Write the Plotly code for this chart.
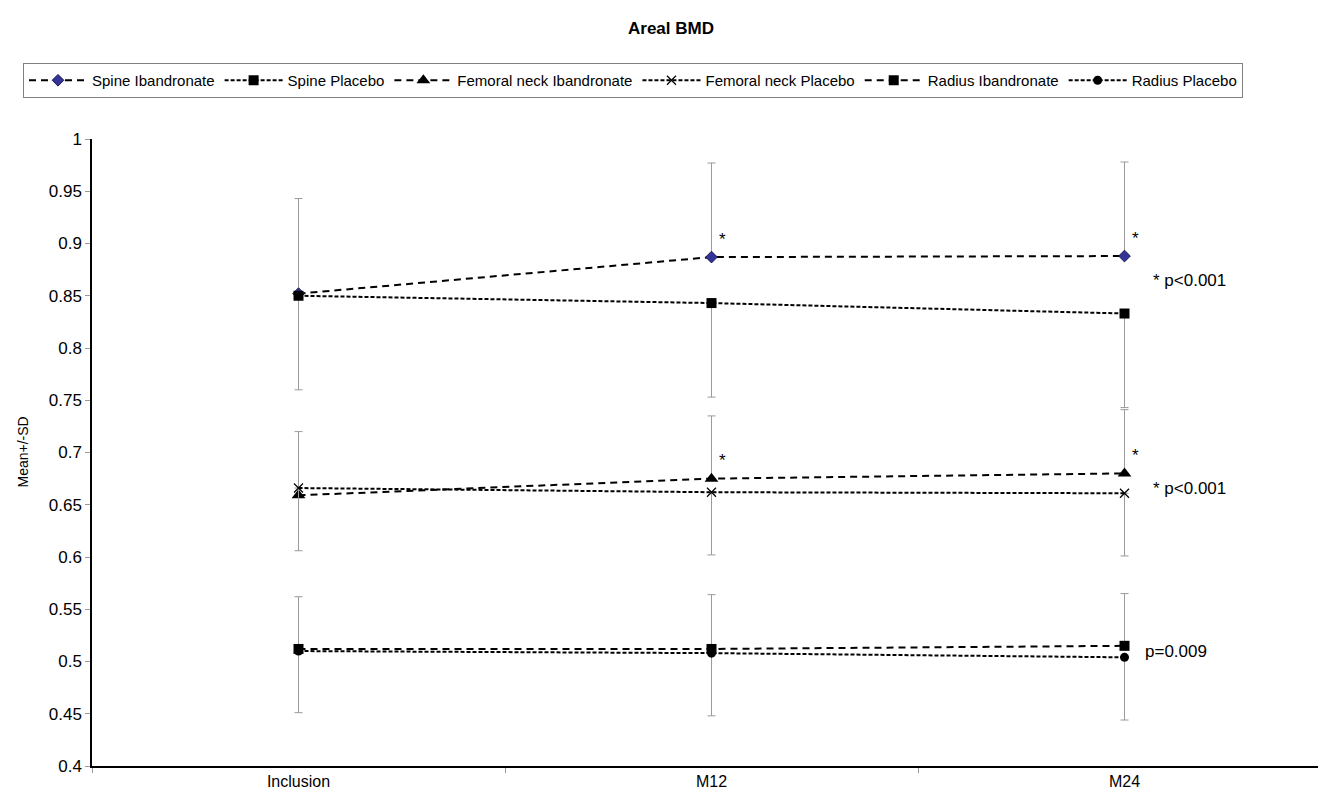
import plotly.graph_objects as go

categories = ["Inclusion", "M12", "M24"]

spine_iband = [0.852, 0.887, 0.888]
spine_iband_sd = [0.091, 0.090, 0.090]
spine_placebo = [0.850, 0.843, 0.833]
spine_placebo_sd = [0.090, 0.090, 0.090]

fem_iband = [0.659, 0.675, 0.680]
fem_iband_sd = [0.061, 0.060, 0.061]
fem_placebo = [0.666, 0.662, 0.661]
fem_placebo_sd = [0.060, 0.060, 0.060]

radius_iband = [0.512, 0.512, 0.515]
radius_iband_sd = [0.050, 0.052, 0.050]
radius_placebo = [0.510, 0.508, 0.504]
radius_placebo_sd = [0.059, 0.060, 0.060]

FONT = "Liberation Sans, Arial, sans-serif"
LONG = "7px,5px"
SHORT = "4px,2px"
ERRC = "#9a9a9a"

series = [
    ("Spine Ibandronate", spine_iband, spine_iband_sd, "up", LONG,
     dict(symbol="diamond", size=9, color="#333399", line=dict(color="#1a1a4d", width=1))),
    ("Spine Placebo", spine_placebo, spine_placebo_sd, "down", SHORT,
     dict(symbol="square", size=10, color="black")),
    ("Femoral neck Ibandronate", fem_iband, fem_iband_sd, "up", LONG,
     dict(symbol="triangle-up", size=12, color="black")),
    ("Femoral neck Placebo", fem_placebo, fem_placebo_sd, "down", SHORT,
     dict(symbol="x-thin-open", size=9, color="black", line=dict(color="black", width=1.2))),
    ("Radius Ibandronate", radius_iband, radius_iband_sd, "up", LONG,
     dict(symbol="square", size=10, color="black")),
    ("Radius Placebo", radius_placebo, radius_placebo_sd, "down", SHORT,
     dict(symbol="circle", size=9, color="black")),
]

fig = go.Figure()
for name, vals, sd, direction, dash, marker in series:
    zeros = [0] * len(sd)
    err = dict(type="data", symmetric=False,
               array=sd if direction == "up" else zeros,
               arrayminus=zeros if direction == "up" else sd,
               color=ERRC, thickness=1, width=4)
    fig.add_trace(go.Scatter(
        x=categories, y=vals, name=name, mode="lines+markers",
        line=dict(color="black", width=2, dash=dash),
        marker=marker, error_y=err,
    ))

annotations = []
# significance asterisks above Ibandronate points at M12 and M24
for vals in (spine_iband, fem_iband):
    for cat, v in zip(categories[1:], vals[1:]):
        annotations.append(dict(x=cat, y=v, xref="x", yref="y", text="*",
                                showarrow=False, xshift=11, yshift=18,
                                font=dict(family=FONT, size=17, color="black")))

annotations += [
    dict(x="M24", y=0.865, xref="x", yref="y", text="* p<0.001", showarrow=False,
         xanchor="left", xshift=26, font=dict(family=FONT, size=17, color="black")),
    dict(x="M24", y=0.666, xref="x", yref="y", text="* p<0.001", showarrow=False,
         xanchor="left", xshift=26, font=dict(family=FONT, size=17, color="black")),
    dict(x="M24", y=0.510, xref="x", yref="y", text="p=0.009", showarrow=False,
         xanchor="left", xshift=18, font=dict(family=FONT, size=17, color="black")),
    dict(x=-(84 - 14) / (1326 - 84 - 3), y=0.7, xref="paper", yref="y", text="Mean+/-SD",
         showarrow=False, textangle=-90, xanchor="center",
         font=dict(family=FONT, size=14, color="black")),
]

fig.update_layout(
    width=1326, height=789,
    margin=dict(l=84, r=3, t=131, b=31, autoexpand=False),
    paper_bgcolor="white", plot_bgcolor="white",
    font=dict(family=FONT, size=16, color="black"),
    title=dict(text="<b>Areal BMD</b>", x=0.5, xanchor="center",
               y=1 - 20 / 789, yanchor="middle",
               font=dict(family=FONT, size=17, color="black")),
    showlegend=True,
    legend=dict(orientation="h", xref="container", yref="container",
                x=15 / 1326, xanchor="left", y=1 - 55 / 789, yanchor="top",
                bordercolor="#808080", borderwidth=1,
                font=dict(family=FONT, size=15, color="black"),
                itemwidth=58, tracegroupgap=0),
    annotations=annotations,
    xaxis=dict(type="category", range=[-0.5, 2.5], showgrid=False, zeroline=False,
               showline=True, linecolor="black", linewidth=1.5,
               ticks="outside", tickson="boundaries", ticklen=5, tickcolor="#999999",
               tickfont=dict(family=FONT, size=16, color="black"), automargin=False),
    yaxis=dict(range=[0.4, 1.0], dtick=0.05, tick0=0.4, showgrid=False, zeroline=False,
               showline=True, linecolor="black", linewidth=1.5,
               ticks="outside", ticklen=5, tickcolor="#999999",
               tickformat="~g",
               tickfont=dict(family=FONT, size=17, color="black"), automargin=False),
)

fig.write_html("out.html")
